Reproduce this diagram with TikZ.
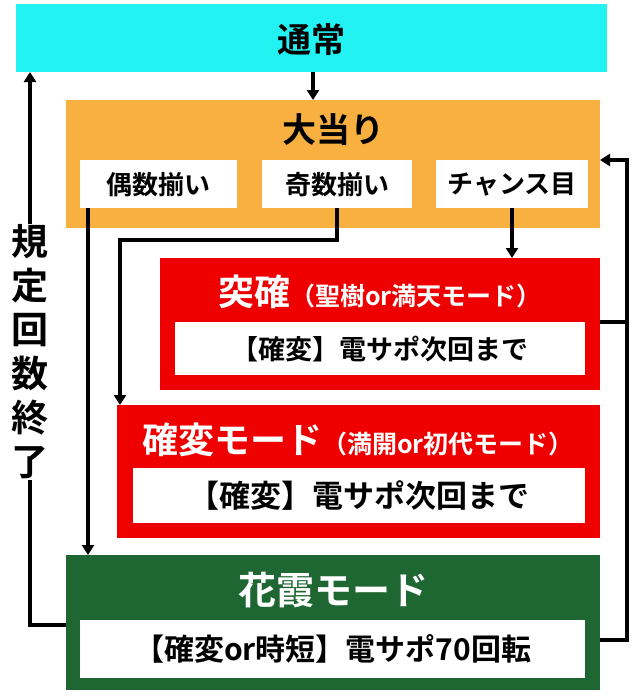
\documentclass[tikz,border=0pt]{standalone}
\usepackage{fontspec}
\newfontfamily\jp{Noto Sans CJK JP Bold}
\usetikzlibrary{arrows.meta}
\definecolor{cy}{HTML}{22F2F2}
\definecolor{orn}{HTML}{F8B040}
\definecolor{rd}{HTML}{EE0000}
\definecolor{gr}{HTML}{1E6632}
\tikzset{
 wbox/.style={fill=white,inner sep=0pt,anchor=north west,text=black},
 con/.style={line width=3.5pt,-{Triangle[length=10pt,width=12pt]}},
 lin/.style={line width=3.5pt}
}
\begin{document}
\begin{tikzpicture}[x=1pt,y=-1pt,font=\jp]
\useasboundingbox (0,0) rectangle (640,696);
\fill[cy] (16,4) rectangle (607,72);
\node[font=\jp\fontsize{34}{36}\selectfont] (tsu) at (311,40) {通常};
\coordinate (tsuB) at (313,72);
\coordinate (tsuL) at (30,72);
\fill[orn] (66,100) rectangle (600,228);
\node[font=\jp\fontsize{34}{36}\selectfont] (oa) at (333,130) {大当り};
\coordinate (oaT) at (313,100);
\coordinate (oaR) at (600,160);
\node[wbox,minimum width=157,minimum height=48,font=\jp\fontsize{26}{28}\selectfont] (g) at (80,160) {偶数揃い};
\node[wbox,minimum width=150,minimum height=48,font=\jp\fontsize{26}{28}\selectfont] (k) at (262,160) {奇数揃い};
\node[wbox,minimum width=152,minimum height=48,font=\jp\fontsize{26}{28}\selectfont] (c) at (436,160) {チャンス目};
\fill[rd] (160,258) rectangle (600,390);
\node[text=white,inner sep=0pt] (r1t) at (380,292) {\fontsize{36}{38}\selectfont 突確\fontsize{25}{27}\selectfont（聖樹or満天モード）};
\node[wbox,minimum width=410,minimum height=53,font=\jp\fontsize{27}{29}\selectfont] (r1i) at (175,322) {【確変】電サポ次回まで};
\fill[rd] (117,405) rectangle (600,538);
\node[text=white,inner sep=0pt] (r2t) at (358,440) {\fontsize{36}{38}\selectfont 確変モード\fontsize{25}{27}\selectfont（満開or初代モード）};
\node[wbox,minimum width=452,minimum height=55,font=\jp\fontsize{31}{33}\selectfont] (r2i) at (133,468) {【確変】電サポ次回まで};
\fill[gr] (66,555) rectangle (600,690);
\node[text=white,font=\jp\fontsize{38}{40}\selectfont] (gt) at (333,590) {花霞モード};
\node[wbox,minimum width=505,minimum height=58,font=\jp\fontsize{30}{32}\selectfont] (gi) at (80,620) {【確変or時短】電サポ70回転};
\node[fill=white,inner sep=1pt,align=center,font=\jp\fontsize{37}{44}\selectfont] (lbl) at (30,352) {規\\定\\回\\数\\終\\了};
% connectors
\draw[con] (tsuB) -- (oaT);
\draw[con] (c.south -| 512,0) -- (512,258);
\draw[con] (k.south -| 337,0) -- (337,240) -- (120,240) -- (120,405);
\draw[con] (g.south -| 88,0) -- (88,555);
\draw[lin] (600,322) -- (627,322);
\draw[lin] (600,640) -- (627,640);
\draw[con] (627,641.75) -- (627,160) -- (oaR);
\draw[lin] (66,625) -- (30,625) -- (lbl.south);
\draw[con] (lbl.north) -- (tsuL);
\end{tikzpicture}
\end{document}
